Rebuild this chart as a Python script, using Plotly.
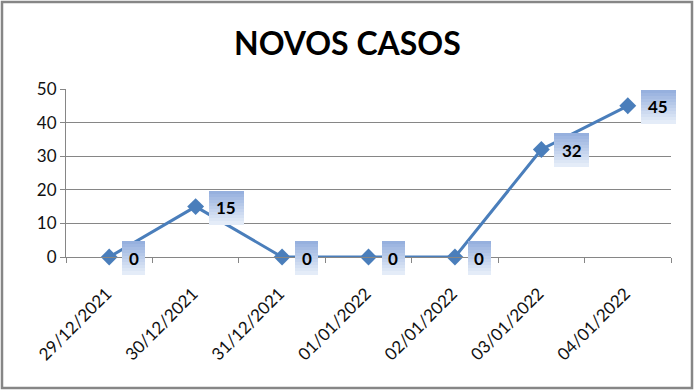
import plotly.graph_objects as go

categories = ["29/12/2021", "30/12/2021", "31/12/2021", "01/01/2022",
              "02/01/2022", "03/01/2022", "04/01/2022"]
values = [0, 15, 0, 0, 0, 32, 45]
y_ticks = [0, 10, 20, 30, 40, 50]
title_text = "NOVOS CASOS"

W, H = 694, 391
ML, MR, MT, MB = 66, 23, 89, 134
PW, PH = W - ML - MR, H - MT - MB

xs = list(range(len(categories)))
line_color = "#4A7EBB"
FONT = "Lato, Open Sans, sans-serif"

fig = go.Figure()
fig.add_trace(go.Scatter(
    x=xs, y=values, mode="lines+markers",
    line=dict(color=line_color, width=3),
    marker=dict(symbol="diamond", size=13, color=line_color),
    hoverinfo="skip", showlegend=False, cliponaxis=False,
))

shapes = []
annotations = []
# gradient label boxes built from thin annotation strips (top darker -> bottom lighter)
top = (150, 176, 222)
bot = (228, 236, 248)
nstrips = 11
strip_h = 3
for x, v in zip(xs, values):
    w = 23 if len(str(v)) == 1 else 35
    x0 = 13
    ytop = 16
    for k in range(nstrips):
        t = k / (nstrips - 1)
        c = tuple(int(round(top[j] + (bot[j] - top[j]) * t)) for j in range(3))
        annotations.append(dict(
            x=x, y=v, xref="x", yref="y", text=" ", showarrow=False,
            xanchor="left", yanchor="top",
            xshift=x0, yshift=ytop - k * strip_h,
            width=w, height=strip_h + 0.5, borderpad=0, borderwidth=0,
            bgcolor="rgb(%d,%d,%d)" % c, font=dict(size=2),
        ))
    annotations.append(dict(
        x=x, y=v, xref="x", yref="y", text="<b>%d</b>" % v, showarrow=False,
        xshift=x0 + w / 2, yshift=-1,
        font=dict(family=FONT, size=17, color="black"),
    ))

# chart border
shapes.append(dict(
    type="rect", xref="paper", yref="paper",
    x0=(2 - ML) / PW, x1=(W - 2 - ML) / PW,
    y0=-(H - 3 - MT - PH) / PH, y1=(MT - 2) / PH + 1,
    line=dict(color="#868686", width=2.5), fillcolor="rgba(0,0,0,0)", layer="below",
))

annotations.append(dict(
    xref="paper", yref="paper", x=(W / 2 - ML) / PW, y=1 + (MT - 42) / PH,
    text="<b>%s</b>" % title_text, showarrow=False,
    font=dict(family=FONT, size=32, color="black"),
    xanchor="center", yanchor="middle",
))

fig.update_layout(
    width=W, height=H,
    margin=dict(l=ML, r=MR, t=MT, b=MB),
    paper_bgcolor="white", plot_bgcolor="white",
    shapes=shapes, annotations=annotations,
    font=dict(family=FONT, color="#111"),
)
fig.update_xaxes(
    range=[-0.5, len(categories) - 0.5],
    tickmode="array", tickvals=[x - 0.03 for x in xs], ticktext=categories,
    tickangle=-45, ticks="", showgrid=False, zeroline=False,
    showline=True, linecolor="#868686", linewidth=1,
    tickfont=dict(size=17, color="#111"), ticklabelstandoff=19,
    minor=dict(tickmode="array", tickvals=[x - 0.5 for x in xs] + [len(xs) - 0.5],
               ticks="outside", ticklen=5, tickcolor="#868686", showgrid=False),
)
fig.update_yaxes(
    range=[0, 50], tickmode="array", tickvals=y_ticks,
    ticks="outside", ticklen=5, tickcolor="#868686",
    showgrid=True, gridcolor="#868686", gridwidth=1, zeroline=False,
    showline=True, linecolor="#868686", linewidth=1,
    tickfont=dict(size=17, color="#111"),
)

fig.write_html("out.html", config={"displayModeBar": False},
               post_script="document.body.style.margin='0';")
